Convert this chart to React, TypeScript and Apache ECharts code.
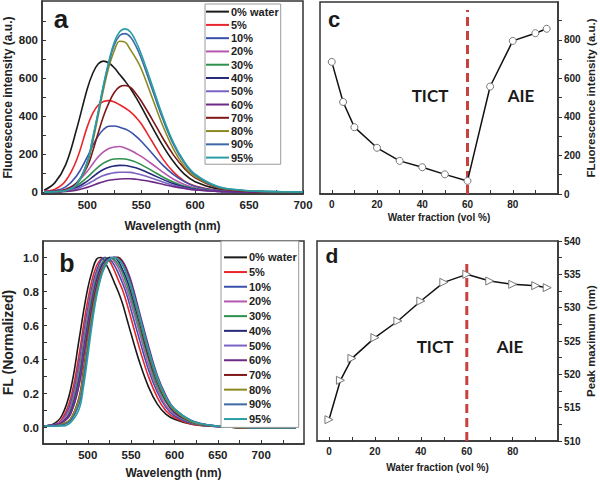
import React, { useEffect, useRef } from "react";
import * as echarts from "echarts";

// ---------- Data ----------
const SERIES_NAMES = ["0% water", "5%", "10%", "20%", "30%", "40%", "50%", "60%", "70%", "80%", "90%", "95%"];
const COLORS = ["#1a1a1a", "#e8262b", "#3a50aa", "#b458ae", "#2e8f4e", "#262a7c", "#7b62c4", "#6c2a86", "#7e1718", "#8c8a1e", "#3d6aa6", "#2a9ea4"];

// panel a: fluorescence spectra (a.u.)
const WL_A = [460, 470, 480, 490, 500, 505, 510, 515, 520, 525, 530, 535, 540, 545, 550, 560, 570, 580, 590, 600, 620, 640, 660, 680, 700];
const A_W0 = [10, 50, 145, 330, 545, 625, 675, 690, 680, 655, 620, 585, 546, 500, 450, 345, 245, 160, 95, 55, 18, 6, 2, 1, 0];
const A_W5 = [5, 15, 60, 168, 345, 415, 458, 478, 482, 475, 460, 443, 423, 395, 360, 268, 175, 105, 58, 32, 10, 4, 1, 0, 0];
const A_W10 = [3, 8, 28, 85, 185, 245, 295, 330, 347, 348, 342, 332, 317, 295, 268, 205, 142, 92, 55, 30, 9, 3, 1, 0, 0];
const A_W20 = [2, 5, 15, 48, 110, 148, 185, 212, 230, 238, 240, 233, 221, 205, 188, 148, 105, 68, 40, 22, 7, 2, 1, 0, 0];
const A_W30 = [1, 3, 10, 33, 78, 105, 132, 153, 167, 174, 176, 174, 168, 158, 145, 113, 80, 52, 31, 17, 5, 2, 0, 0, 0];
const A_W40 = [1, 2, 7, 24, 58, 80, 102, 119, 131, 138, 141, 140, 135, 128, 118, 93, 67, 44, 27, 15, 5, 1, 0, 0, 0];
const A_W50 = [0, 2, 5, 17, 42, 58, 74, 87, 96, 102, 105, 105, 104, 98, 91, 73, 53, 36, 22, 12, 4, 1, 0, 0, 0];
const A_W60 = [0, 1, 3, 10, 25, 35, 46, 55, 62, 66, 69, 70, 70, 68, 64, 54, 41, 29, 19, 11, 4, 1, 0, 0, 0];
const A_W70 = [2, 4, 14, 48, 135, 215, 310, 400, 470, 525, 555, 562, 552, 520, 480, 385, 285, 195, 125, 75, 25, 8, 3, 1, 0];
const A_W80 = [0, 2, 8, 38, 150, 265, 400, 540, 660, 745, 795, 790, 750, 705, 650, 500, 350, 225, 135, 80, 27, 10, 4, 1, 0];
const A_W90 = [0, 2, 8, 40, 158, 280, 415, 560, 680, 775, 825, 835, 817, 770, 705, 545, 385, 250, 153, 90, 30, 11, 4, 2, 1];
const A_W95 = [0, 2, 8, 40, 160, 285, 420, 565, 690, 790, 845, 860, 844, 795, 728, 565, 400, 260, 160, 95, 32, 12, 5, 2, 1];
const A_SETS = [A_W0, A_W5, A_W10, A_W20, A_W30, A_W40, A_W50, A_W60, A_W70, A_W80, A_W90, A_W95];

// panel b: normalized spectra
const WL_B = [450, 460, 470, 480, 490, 495, 500, 505, 510, 515, 520, 525, 530, 535, 540, 545, 550, 560, 570, 580, 590, 600, 620, 640, 660, 680, 700, 720, 740];
const B_W0 = [0.01, 0.02, 0.07, 0.22, 0.52, 0.68, 0.82, 0.92, 0.99, 1.0, 0.97, 0.92, 0.86, 0.8, 0.73, 0.64, 0.55, 0.38, 0.24, 0.14, 0.08, 0.05, 0.02, 0.01, 0.005, 0, 0, 0, 0];
const B_W5 = [0.01, 0.015, 0.05, 0.17, 0.43, 0.6, 0.75, 0.87, 0.95, 0.99, 1.0, 0.98, 0.93, 0.87, 0.81, 0.73, 0.64, 0.46, 0.3, 0.18, 0.1, 0.06, 0.02, 0.01, 0.005, 0, 0, 0, 0];
const B_W10 = [0.01, 0.015, 0.04, 0.14, 0.38, 0.55, 0.7, 0.83, 0.92, 0.98, 1.0, 0.99, 0.96, 0.91, 0.85, 0.78, 0.69, 0.51, 0.34, 0.21, 0.12, 0.07, 0.025, 0.01, 0.005, 0, 0, 0, 0];
const B_W20 = [0.01, 0.015, 0.04, 0.12, 0.35, 0.51, 0.67, 0.8, 0.9, 0.96, 0.99, 1.0, 0.98, 0.94, 0.88, 0.81, 0.73, 0.55, 0.37, 0.23, 0.13, 0.08, 0.03, 0.01, 0.005, 0, 0, 0, 0];
const B_W30 = [0.01, 0.015, 0.03, 0.1, 0.31, 0.47, 0.63, 0.77, 0.88, 0.95, 0.99, 1.0, 0.99, 0.96, 0.91, 0.84, 0.76, 0.58, 0.4, 0.25, 0.15, 0.09, 0.03, 0.012, 0.005, 0, 0, 0, 0];
const B_W40 = [0.01, 0.015, 0.03, 0.09, 0.28, 0.44, 0.6, 0.74, 0.86, 0.94, 0.98, 1.0, 1.0, 0.98, 0.93, 0.87, 0.79, 0.61, 0.42, 0.27, 0.16, 0.09, 0.035, 0.012, 0.005, 0, 0, 0, 0];
const B_W50 = [0.01, 0.015, 0.03, 0.08, 0.26, 0.42, 0.58, 0.72, 0.84, 0.92, 0.97, 0.99, 1.0, 1.0, 0.97, 0.91, 0.83, 0.64, 0.45, 0.29, 0.17, 0.1, 0.04, 0.015, 0.006, 0.002, 0, 0, 0];
const B_W60 = [0.01, 0.015, 0.03, 0.08, 0.25, 0.41, 0.57, 0.71, 0.83, 0.91, 0.96, 0.99, 1.0, 1.0, 0.98, 0.93, 0.86, 0.67, 0.48, 0.31, 0.19, 0.11, 0.04, 0.015, 0.006, 0.002, 0, 0, 0];
const B_W70 = [0.01, 0.01, 0.02, 0.05, 0.18, 0.34, 0.52, 0.69, 0.82, 0.91, 0.96, 0.99, 1.0, 1.0, 0.97, 0.91, 0.83, 0.63, 0.43, 0.28, 0.17, 0.1, 0.035, 0.012, 0.005, 0, 0, 0, 0];
const B_W80 = [0.01, 0.01, 0.02, 0.05, 0.17, 0.32, 0.5, 0.67, 0.8, 0.9, 0.96, 0.99, 1.0, 0.99, 0.96, 0.9, 0.82, 0.63, 0.44, 0.28, 0.17, 0.1, 0.035, 0.013, 0.005, 0, 0, 0, 0];
const B_W90 = [0.01, 0.01, 0.015, 0.04, 0.14, 0.28, 0.46, 0.64, 0.78, 0.89, 0.95, 0.99, 1.0, 0.99, 0.96, 0.9, 0.83, 0.64, 0.45, 0.29, 0.18, 0.11, 0.04, 0.014, 0.006, 0.002, 0, 0, 0];
const B_W95 = [0.01, 0.01, 0.01, 0.03, 0.11, 0.24, 0.42, 0.61, 0.77, 0.88, 0.95, 0.99, 1.0, 0.99, 0.96, 0.9, 0.83, 0.65, 0.46, 0.3, 0.18, 0.11, 0.04, 0.015, 0.006, 0.002, 0, 0, 0];
const B_SETS = [B_W0, B_W5, B_W10, B_W20, B_W30, B_W40, B_W50, B_W60, B_W70, B_W80, B_W90, B_W95];

// panels c, d
const WATER = [0, 5, 10, 20, 30, 40, 50, 60, 70, 80, 90, 95];
const INTENSITY = [686, 478, 347, 240, 172, 139, 102, 68, 558, 795, 835, 858];
const PEAK_NM = [513.2, 519.1, 522.4, 525.5, 528, 531, 533.8, 535, 534, 533.5, 533.3, 533];
const DIVIDER_C = [[60, 0], [60, 955]];
const DIVIDER_D = [[60, 510], [60, 537.3]];

// tick values
const A_X_LABELS = [500, 550, 600, 650, 700];
const A_X_TICKS = [475, 500, 525, 550, 575, 600, 625, 650, 675, 700];
const A_Y_LABELS = [0, 200, 400, 600, 800];
const A_Y_TICKS = [0, 100, 200, 300, 400, 500, 600, 700, 800, 900];
const B_X_LABELS = [500, 550, 600, 650, 700];
const B_X_TICKS = [475, 500, 525, 550, 575, 600, 625, 650, 675, 700, 725];
const B_Y_LABELS = [0, 0.2, 0.4, 0.6, 0.8, 1.0];
const B_Y_TICKS = [0, 0.1, 0.2, 0.3, 0.4, 0.5, 0.6, 0.7, 0.8, 0.9, 1.0];
const CD_X_LABELS = [0, 20, 40, 60, 80];
const CD_X_TICKS = [0, 10, 20, 30, 40, 50, 60, 70, 80, 90];
const C_Y_LABELS = [0, 200, 400, 600, 800];
const C_Y_TICKS = [0, 100, 200, 300, 400, 500, 600, 700, 800, 900];
const D_Y_LABELS = [510, 515, 520, 525, 530, 535, 540];
const D_Y_TICKS = [510, 512.5, 515, 517.5, 520, 522.5, 525, 527.5, 530, 532.5, 535, 537.5, 540];

const FONT = "'Liberation Sans', Arial, sans-serif";
const INK = "#222";
const FRAME = "#333";

function makeXAxis(grid: number, min: number, max: number, labels: number[], ticks: number[], name: string, nameGap: number, labelSize: number, nameSize: number) {
  return {
    type: "value", gridIndex: grid, min, max,
    name, nameLocation: "middle", nameGap,
    nameTextStyle: { fontFamily: FONT, fontWeight: "bold", fontSize: nameSize, color: INK },
    axisLine: { show: true, onZero: false, lineStyle: { color: FRAME, width: 1.5 } },
    axisTick: { show: true, inside: true, length: 4, customValues: ticks, lineStyle: { color: FRAME, width: 1 } },
    axisLabel: { customValues: labels, fontFamily: FONT, fontWeight: "bold", fontSize: labelSize, color: INK, margin: 5 },
    splitLine: { show: false },
  };
}

function makeYAxis(grid: number, min: number, max: number, labels: number[], ticks: number[], name: string, nameGap: number, right: boolean, labelSize: number, nameSize: number, fmt?: (v: number) => string) {
  return {
    type: "value", gridIndex: grid, min, max, position: right ? "right" : "left",
    name, nameLocation: "middle", nameGap, nameRotate: 90,
    nameTextStyle: { fontFamily: FONT, fontWeight: "bold", fontSize: nameSize, color: INK },
    axisLine: { show: true, onZero: false, lineStyle: { color: FRAME, width: 1.5 } },
    axisTick: { show: true, inside: !right, length: 4, customValues: ticks, lineStyle: { color: FRAME, width: 1 } },
    axisLabel: { customValues: labels, fontFamily: FONT, fontWeight: "bold", fontSize: labelSize, color: INK, margin: right ? 6 : 4, formatter: fmt },
    splitLine: { show: false },
  };
}

function legendBox(left: number, top: number, rowH: number, padding: number[]) {
  return {
    show: true, orient: "vertical", left, top, padding, itemGap: 0,
    icon: "rect", itemWidth: 23, itemHeight: 2,
    borderColor: "#9a9a9a", borderWidth: 1, backgroundColor: "#fff",
    data: SERIES_NAMES,
    textStyle: { fontFamily: FONT, fontWeight: "bold", fontSize: 11, color: INK, lineHeight: rowH, padding: [0, 0, 0, -3] },
    selectedMode: false,
  };
}

function buildOption() {
  const series: any[] = [];
  A_SETS.forEach((arr, k) => {
    series.push({
      name: SERIES_NAMES[k], type: "line", xAxisIndex: 0, yAxisIndex: 0,
      data: WL_A.map((w, i) => [w, arr[i]]), smooth: 0.4, symbol: "none",
      lineStyle: { color: COLORS[k], width: 1.6 }, itemStyle: { color: COLORS[k] },
    });
  });
  B_SETS.forEach((arr, k) => {
    series.push({
      name: SERIES_NAMES[k], type: "line", xAxisIndex: 1, yAxisIndex: 1,
      data: WL_B.map((w, i) => [w, arr[i]]), smooth: 0.4, symbol: "none",
      lineStyle: { color: COLORS[k], width: 1.6 }, itemStyle: { color: COLORS[k] },
    });
  });
  series.push({
    type: "line", xAxisIndex: 2, yAxisIndex: 2, data: DIVIDER_C, symbol: "none", z: 1,
    lineStyle: { color: "#c9413f", width: 3, type: [9, 5] },
  });
  series.push({
    type: "line", xAxisIndex: 3, yAxisIndex: 3, data: DIVIDER_D, symbol: "none", z: 1,
    lineStyle: { color: "#c9413f", width: 3, type: [9, 5] },
  });
  series.push({
    type: "line", xAxisIndex: 2, yAxisIndex: 2, z: 3,
    data: WATER.map((w, i) => [w, INTENSITY[i]]),
    symbol: "circle", symbolSize: 7,
    lineStyle: { color: "#111", width: 1.5 },
    itemStyle: { color: "#fff", borderColor: "#777", borderWidth: 1 },
  });
  series.push({
    type: "line", xAxisIndex: 3, yAxisIndex: 3, z: 3,
    data: WATER.map((w, i) => [w, PEAK_NM[i]]),
    symbol: "triangle", symbolSize: 8, symbolRotate: -90,
    lineStyle: { color: "#111", width: 1.5 },
    itemStyle: { color: "#fff", borderColor: "#777", borderWidth: 1 },
  });

  const gridStyle = { show: true, borderColor: FRAME, borderWidth: 1.5, backgroundColor: "transparent" };
  const letter = (t: string, x: number, y: number, size: number) => ({
    type: "text", x, y, z: 10,
    style: { text: t, fill: "#1a1a1a", font: `bold ${size}px ${FONT}`, align: "center", verticalAlign: "bottom" },
  });
  const region = (t: string, x: number, y: number) => ({
    type: "text", x, y, z: 10,
    style: { text: t, fill: "#1a1a1a", font: `bold 17px Lato, 'Open Sans', sans-serif`, align: "center", verticalAlign: "middle" },
  });

  return {
    animation: false,
    backgroundColor: "#fff",
    grid: [
      { left: 42, top: 1, width: 261, height: 193, ...gridStyle },
      { left: 42, top: 241, width: 262, height: 203, ...gridStyle },
      { left: 320, top: 2, width: 238, height: 192, ...gridStyle },
      { left: 317, top: 241, width: 241, height: 200, ...gridStyle },
    ],
    xAxis: [
      makeXAxis(0, 458, 700, A_X_LABELS, A_X_TICKS, "Wavelength (nm)", 26, 11.5, 12),
      makeXAxis(1, 448.3, 749.4, B_X_LABELS, B_X_TICKS, "Wavelength (nm)", 23, 11.5, 12),
      makeXAxis(2, -5.2, 100, CD_X_LABELS, CD_X_TICKS, "Water fraction (vol %)", 18, 10, 10),
      makeXAxis(3, -5.2, 99.7, CD_X_LABELS, CD_X_TICKS, "Water fraction (vol %)", 21, 10, 10),
    ],
    yAxis: [
      makeYAxis(0, -10, 1007, A_Y_LABELS, A_Y_TICKS, "Fluorescence intensity (a.u.)", 28, false, 11.5, 12),
      makeYAxis(1, -0.096, 1.097, B_Y_LABELS, B_Y_TICKS, "FL (Normalized)", 28, false, 11.5, 14, (v: number) => v.toFixed(1)),
      makeYAxis(2, 0, 997, C_Y_LABELS, C_Y_TICKS, "FLuorescence intensity (a.u.)", 27, true, 10, 11.5),
      makeYAxis(3, 510, 540, D_Y_LABELS, D_Y_TICKS, "Peak maximum (nm)", 27, true, 10, 11.5),
    ],
    legend: [
      legendBox(205, 4, 13.27, [1, 2, 0, 1]),
      legendBox(221, 241, 14.7, [9, 2, 1, 3]),
    ],
    graphic: [
      letter("a", 61, 32, 26),
      letter("b", 67, 275, 25),
      letter("c", 334, 30, 22),
      letter("d", 332, 266, 21),
      region("TICT", 430, 95.5),
      region("AIE", 521, 95.5),
      region("TICT", 435, 346.5),
      region("AIE", 510, 346),
    ],
    series,
  };
}

export default function App() {
  const ref = useRef<HTMLDivElement>(null);
  useEffect(() => {
    document.body.style.margin = "0";
    const chart = echarts.init(ref.current!, null, { renderer: "svg" });
    chart.setOption(buildOption() as any);
    return () => chart.dispose();
  }, []);
  return <div ref={ref} style={{ width: 600, height: 488 }} />;
}
